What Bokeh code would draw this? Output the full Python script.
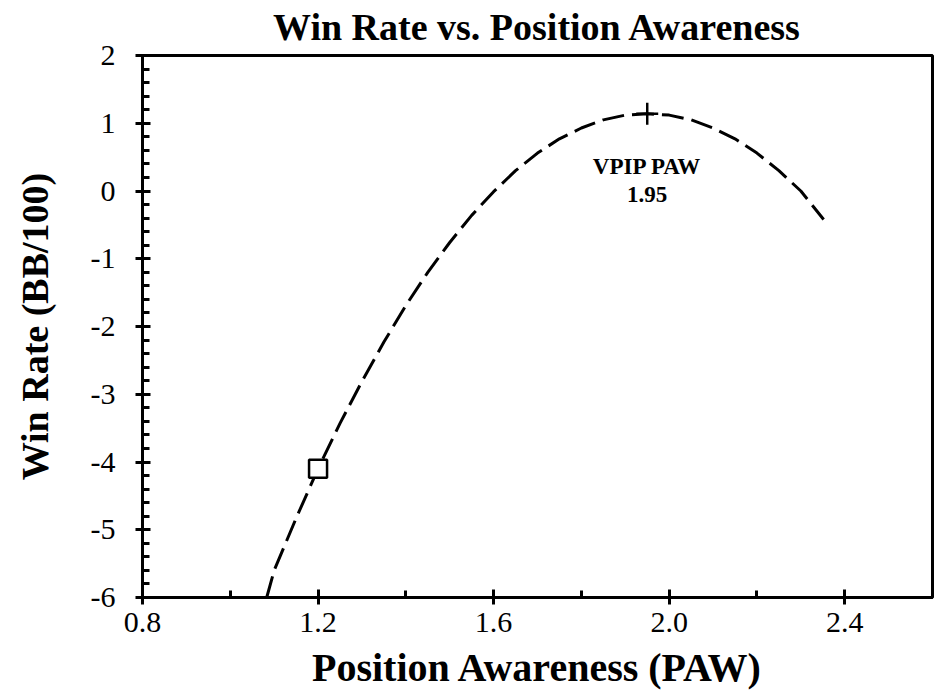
from bokeh.plotting import figure
from bokeh.models import Range1d, SingleIntervalTicker, PrintfTickFormatter, Label
from bokeh.embed import file_html
from bokeh.resources import INLINE

# Fitted curve
curve_x = [1.083, 1.10, 1.15, 1.20, 1.25, 1.30, 1.35, 1.40, 1.45, 1.50, 1.55, 1.60,
           1.65, 1.70, 1.75, 1.80, 1.85, 1.90, 1.95, 2.00, 2.05, 2.10, 2.15, 2.20,
           2.25, 2.30, 2.352]
curve_y = [-6.00, -5.60, -4.83, -4.10, -3.43, -2.81, -2.23, -1.69, -1.20, -0.76, -0.36, -0.01,
           0.30, 0.56, 0.77, 0.93, 1.05, 1.12, 1.14, 1.12, 1.05, 0.93, 0.77, 0.56,
           0.30, 0.00, -0.42]

# Observed point (square) and peak (plus)
obs_x = [1.2]
obs_y = [-4.1]
peak_x = [1.95]
peak_y = [1.14]
peak_label = "VPIP PAW"

FONT = "Liberation Serif"

p = figure(width=942, height=694, output_backend="svg", toolbar_location=None,
           x_range=Range1d(0.8, 2.6), y_range=Range1d(-6, 2),
           min_border_left=142, min_border_right=10, min_border_top=55, min_border_bottom=97)

p.title.text = "Win Rate vs. Position Awareness"
p.title.text_font = FONT
p.title.text_font_style = "bold"
p.title.text_font_size = "38px"
p.title.align = "center"
p.title.text_color = "black"
p.title.vertical_align = "top"
p.title.standoff = 11

p.grid.visible = False
p.outline_line_color = "black"
p.outline_line_width = 3
p.outline_line_alpha = 1.0

p.xaxis.ticker = SingleIntervalTicker(interval=0.4, num_minor_ticks=2)
p.yaxis.ticker = SingleIntervalTicker(interval=1, num_minor_ticks=5)
p.xaxis.formatter = PrintfTickFormatter(format="%.1f")
p.yaxis.formatter = PrintfTickFormatter(format="%d")

p.xaxis.axis_label = "Position Awareness (PAW)"
p.yaxis.axis_label = "Win Rate (BB/100)"

for ax in (p.xaxis, p.yaxis):
    ax.axis_line_color = "black"
    ax.axis_line_width = 3
    ax.major_tick_line_color = "black"
    ax.major_tick_line_width = 3
    ax.minor_tick_line_color = "black"
    ax.minor_tick_line_width = 3
    ax.major_tick_in = 8
    ax.major_tick_out = 7
    ax.minor_tick_in = 7
    ax.minor_tick_out = 0
    ax.major_label_text_font = FONT
    ax.major_label_text_font_size = "30px"
    ax.major_label_text_color = "black"
    ax.axis_label_text_font = FONT
    ax.axis_label_text_font_style = "bold"
    ax.axis_label_text_color = "black"

p.xaxis.axis_label_text_font_size = "40px"
p.yaxis.axis_label_text_font_size = "38px"
p.xaxis.major_label_standoff = 8
p.xaxis.axis_label_standoff = 10
p.yaxis.major_label_standoff = 20
p.yaxis.axis_label_standoff = 32

p.line(curve_x, curve_y, line_color="black", line_width=3, line_dash="22 8")
p.scatter(obs_x, obs_y, marker="square", size=18, fill_color="white",
          line_color="black", line_width=2.5)
p.scatter(peak_x, peak_y, marker="cross", size=22, line_color="black", line_width=2.5)

p.add_layout(Label(x=peak_x[0], y=0.36, text=peak_label, text_font=FONT,
                   text_font_style="bold", text_font_size="23px", text_align="center",
                   text_baseline="middle", text_color="black"))
p.add_layout(Label(x=peak_x[0], y=-0.05, text=f"{peak_x[0]:.2f}", text_font=FONT,
                   text_font_style="bold", text_font_size="23px", text_align="center",
                   text_baseline="middle", text_color="black"))

open("out.html", "w").write(file_html(p, INLINE))
